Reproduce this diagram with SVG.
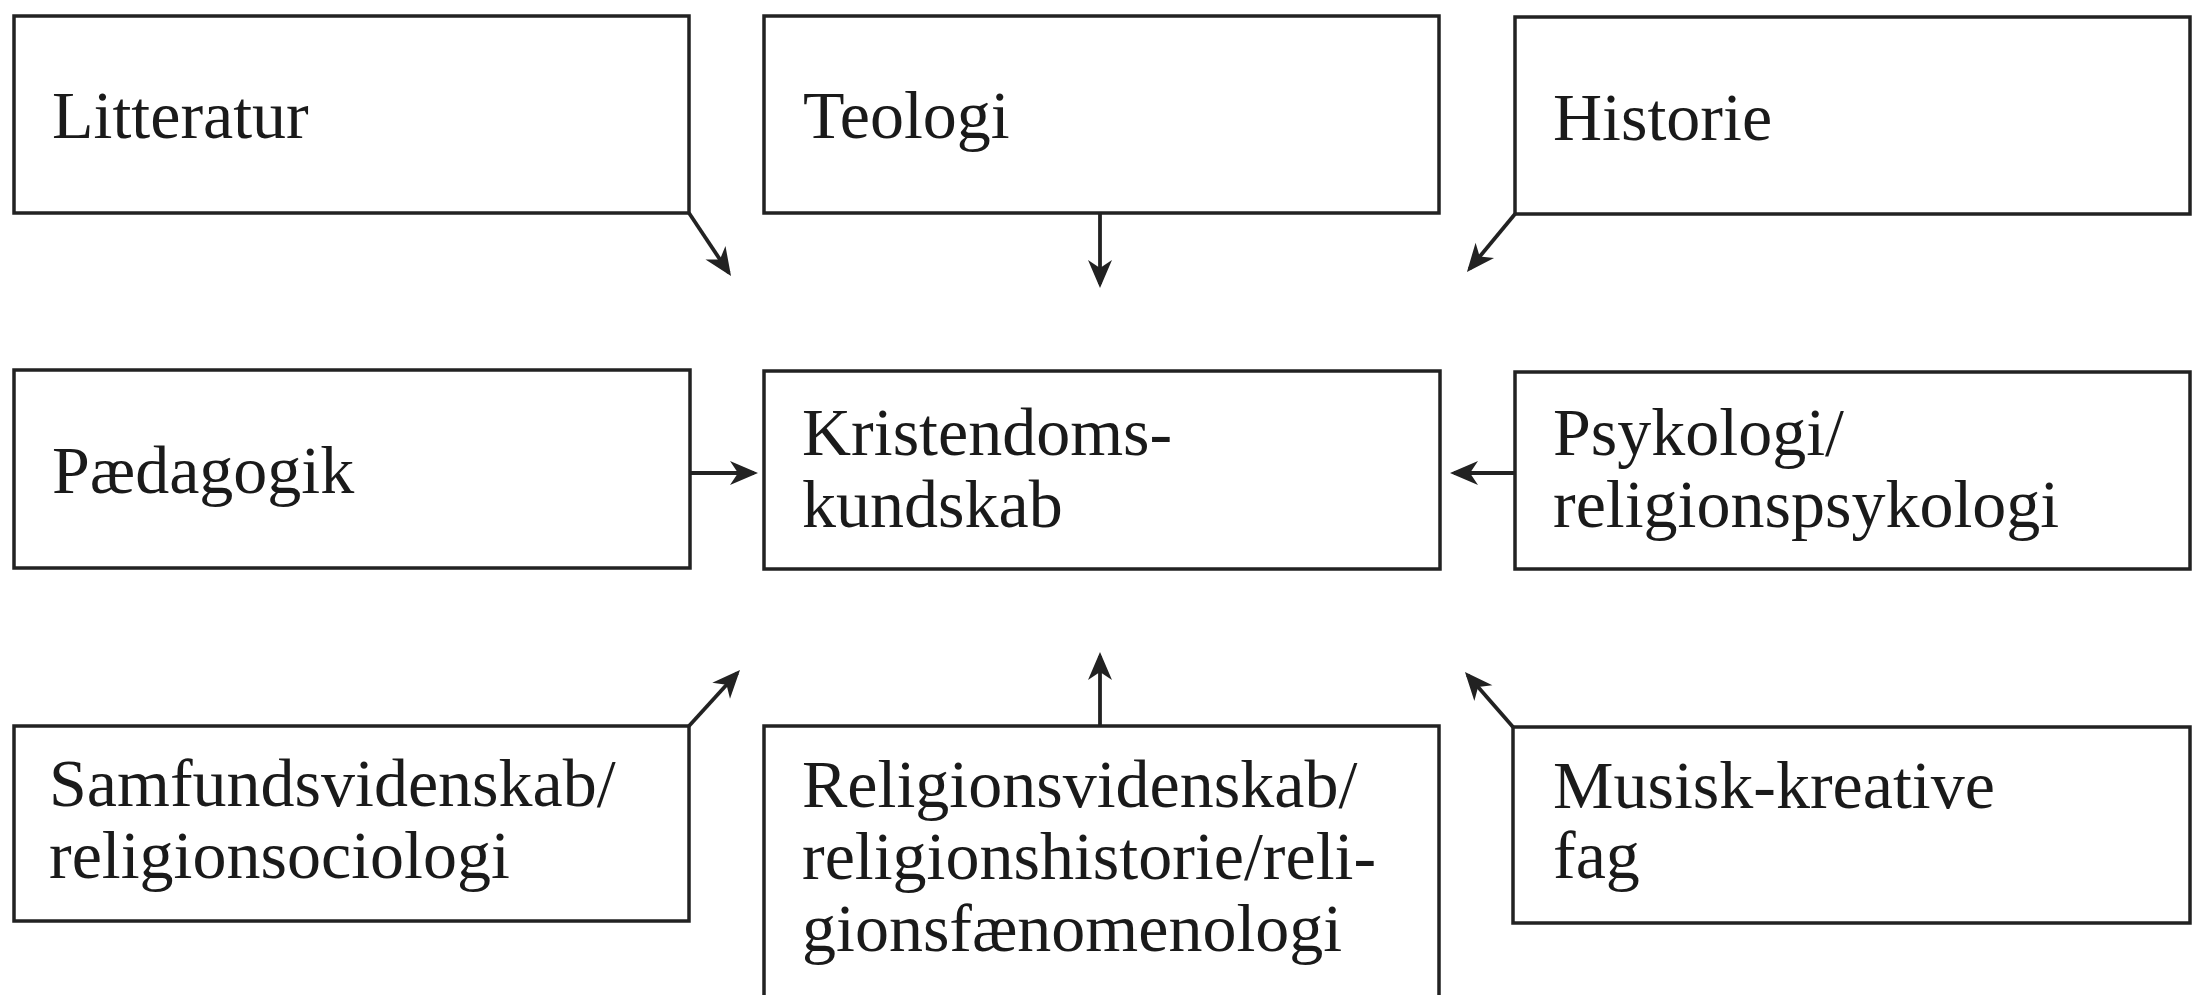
<svg xmlns="http://www.w3.org/2000/svg" width="2198" height="995" viewBox="0 0 2198 995">
<style>
.box{fill:#fff;stroke:#222;stroke-width:3.5}
.lbl{font-family:"Liberation Serif","Times New Roman",serif;font-size:68px;fill:#1a1a1a}
.con{stroke:#222;stroke-width:3.8;fill:none;marker-end:url(#ah)}
</style>
<defs>
<marker id="ah" viewBox="-30 -15 40 30" refX="0" refY="0" markerWidth="40" markerHeight="30" markerUnits="userSpaceOnUse" orient="auto">
<path d="M4,0 L-24,-12 L-16,0 L-24,12 Z" fill="#222"/>
</marker>
</defs>
<rect width="2198" height="995" fill="#fff"/>
<g id="litteratur"><rect class="box" x="14" y="16" width="675" height="197"/><text class="lbl" x="52" y="138">Litteratur</text></g>
<g id="teologi"><rect class="box" x="764" y="16" width="675" height="197"/><text class="lbl" x="803" y="138">Teologi</text></g>
<g id="historie"><rect class="box" x="1515" y="17" width="675" height="197"/><text class="lbl" x="1553" y="140">Historie</text></g>
<g id="paedagogik"><rect class="box" x="14" y="370" width="676" height="198"/><text class="lbl" x="52" y="493">Pædagogik</text></g>
<g id="kristendomskundskab"><rect class="box" x="764" y="371" width="676" height="198"/><text class="lbl" x="802" y="455">Kristendoms-</text><text class="lbl" x="802" y="527">kundskab</text></g>
<g id="psykologi"><rect class="box" x="1515" y="372" width="675" height="197"/><text class="lbl" x="1553" y="455">Psykologi/</text><text class="lbl" x="1553" y="527">religionspsykologi</text></g>
<g id="samfundsvidenskab"><rect class="box" x="14" y="726" width="675" height="195"/><text class="lbl" x="49" y="806">Samfundsvidenskab/</text><text class="lbl" x="49" y="878">religionsociologi</text></g>
<g id="religionsvidenskab"><rect class="box" x="764" y="726" width="675" height="300"/><text class="lbl" x="802" y="807">Religionsvidenskab/</text><text class="lbl" x="802" y="879">religionshistorie/reli-</text><text class="lbl" x="802" y="951">gionsfænomenologi</text></g>
<g id="musisk"><rect class="box" x="1513" y="727" width="677" height="196"/><text class="lbl" x="1553" y="808">Musisk-kreative</text><text class="lbl" x="1553" y="878">fag</text></g>
<g id="connectors">
<line class="con" x1="689" y1="213" x2="728.8" y2="272.7"/>
<line class="con" x1="1100" y1="213" x2="1100" y2="284"/>
<line class="con" x1="1515" y1="214" x2="1469.5" y2="268.9"/>
<line class="con" x1="690" y1="473" x2="754" y2="473"/>
<line class="con" x1="1515" y1="473" x2="1454" y2="473"/>
<line class="con" x1="689" y1="726" x2="737.3" y2="673"/>
<line class="con" x1="1100" y1="726" x2="1100" y2="656"/>
<line class="con" x1="1513" y1="727" x2="1467.6" y2="675"/>
</g>
</svg>
